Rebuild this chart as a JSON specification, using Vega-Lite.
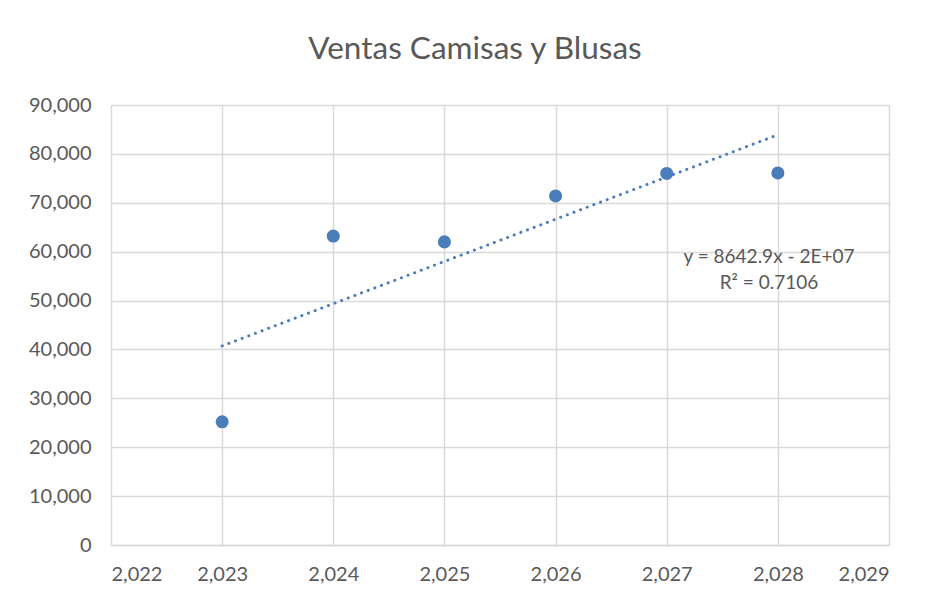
{
  "$schema": "https://vega.github.io/schema/vega-lite/v6.json",
  "width": 778,
  "height": 440,
  "autosize": {"type": "none"},
  "padding": {"left": 111, "top": 105, "right": 39, "bottom": 50},
  "background": "#ffffff",
  "title": {
    "text": "Ventas Camisas y Blusas",
    "fontSize": 31.5,
    "font": "Lato",
    "fontWeight": "normal",
    "color": "#595959",
    "anchor": "middle",
    "dx": -25,
    "offset": 30
  },
  "config": {
    "view": {"stroke": null},
    "axis": {
      "labelFont": "Lato",
      "labelFontSize": 20,
      "labelColor": "#595959",
      "gridColor": "#d9d9d9",
      "gridWidth": 1.5,
      "domainColor": "#d9d9d9",
      "domainWidth": 1.5,
      "ticks": false,
      "title": null
    }
  },
  "datasets": {
    "ventas": [
      {"anio": 2023, "ventas": 25200},
      {"anio": 2024, "ventas": 63200},
      {"anio": 2025, "ventas": 62000},
      {"anio": 2026, "ventas": 71400},
      {"anio": 2027, "ventas": 76000},
      {"anio": 2028, "ventas": 76100}
    ],
    "etiquetas": [
      {"anio": 2027.92, "ventas": 58900, "texto": "y = 8642.9x - 2E+07"},
      {"anio": 2027.92, "ventas": 53600, "texto": "R² = 0.7106"}
    ]
  },
  "layer": [
    {
      "data": {"name": "ventas"},
      "transform": [{"regression": "ventas", "on": "anio", "extent": [2023, 2028]}],
      "mark": {"type": "line", "color": "#4a7ebb", "strokeWidth": 3, "strokeDash": [0.1, 7], "strokeCap": "round"},
      "encoding": {
        "x": {"field": "anio", "type": "quantitative", "scale": {"domain": [2022, 2029]},
          "axis": {"values": [2022, 2023, 2024, 2025, 2026, 2027, 2028, 2029], "format": ",.0f", "labelPadding": 19, "grid": true}},
        "y": {"field": "ventas", "type": "quantitative", "scale": {"domain": [0, 90000]},
          "axis": {"values": [0, 10000, 20000, 30000, 40000, 50000, 60000, 70000, 80000, 90000], "format": ",.0f", "labelPadding": 20, "domain": false}}
      }
    },
    {
      "data": {"name": "ventas"},
      "mark": {"type": "circle", "color": "#4a7ebb", "size": 170, "opacity": 1},
      "encoding": {
        "x": {"field": "anio", "type": "quantitative"},
        "y": {"field": "ventas", "type": "quantitative"}
      }
    },
    {
      "data": {"name": "etiquetas"},
      "mark": {"type": "text", "font": "Lato", "fontSize": 19, "color": "#595959", "align": "center", "baseline": "middle"},
      "encoding": {
        "x": {"field": "anio", "type": "quantitative"},
        "y": {"field": "ventas", "type": "quantitative"},
        "text": {"field": "texto"}
      }
    }
  ]
}
